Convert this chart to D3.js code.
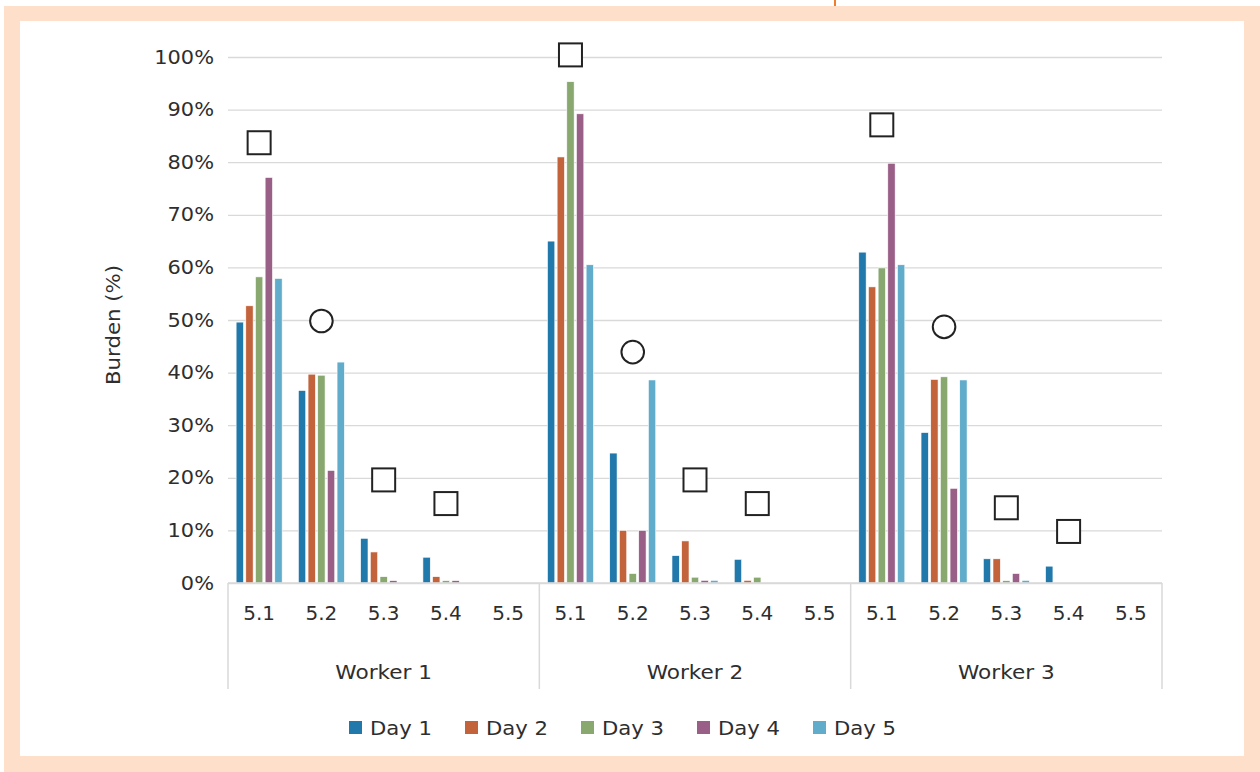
<!DOCTYPE html>
<html>
<head>
<meta charset="utf-8">
<script src="https://cdn.jsdelivr.net/npm/d3@7"></script>
<style>
html,body{margin:0;padding:0;background:#fff;}
svg{display:block;}
text{font-family:"DejaVu Sans",sans-serif;fill:#2e2e2e;}
</style>
</head>
<body>
<svg id="chart" width="1260" height="772"></svg>
<script>
// ---- data ----
const workers = ["Worker 1", "Worker 2", "Worker 3"];
const subcats = ["5.1", "5.2", "5.3", "5.4", "5.5"];
const days = ["Day 1", "Day 2", "Day 3", "Day 4", "Day 5"];
const dayColors = ["#2179ab", "#c3633b", "#88a870", "#9a5f86", "#60acca"];
// values in %, per worker then sub-category (5.1..5.5)
const day1 = [49.6, 36.6, 8.5, 4.9, 0,  65.0, 24.7, 5.2, 4.5, 0,  62.9, 28.6, 4.6, 3.2, 0];
const day2 = [52.7, 39.7, 5.9, 1.2, 0,  81.0, 10.0, 8.0, 0.5, 0,  56.3, 38.7, 4.6, 0, 0];
const day3 = [58.2, 39.5, 1.2, 0.45, 0, 95.3, 1.8, 1.1, 1.1, 0,   59.9, 39.2, 0.45, 0, 0];
const day4 = [77.1, 21.4, 0.45, 0.45, 0, 89.2, 10.0, 0.5, 0, 0,   79.8, 18.0, 1.8, 0, 0];
const day5 = [57.9, 42.0, 0, 0, 0,      60.5, 38.6, 0.5, 0, 0,    60.5, 38.6, 0.5, 0, 0];
const dayValues = [day1, day2, day3, day4, day5];
// reference markers (%), per worker then sub-category
const markerShapes = ["square", "circle", "square", "square", null];
const markerValues = [83.7, 49.8, 19.6, 15.1, null,  100.4, 43.9, 19.6, 15.1, null,  87.1, 48.7, 14.3, 9.8, null];
const yTicks = [0, 0.1, 0.2, 0.3, 0.4, 0.5, 0.6, 0.7, 0.8, 0.9, 1.0];

// ---- layout ----
const svg = d3.select("#chart");
const W = 1260, H = 772;
const plotLeft = 228, plotRight = 1162, plotTop = 57, plotBottom = 583;

function widen(sel, sx) {
  sel.each(function() {
    const t = d3.select(this);
    const x = +t.attr("x") || 0, y = +t.attr("y") || 0;
    t.attr("transform", `translate(${x},${y}) scale(${sx},1) translate(${-x},${-y})`);
  });
}

// frame
svg.append("rect").attr("x", 4).attr("y", 6).attr("width", W - 4).attr("height", H - 6).attr("fill", "#fee0ca");
svg.append("rect").attr("x", 20).attr("y", 21).attr("width", 1224).attr("height", 735).attr("fill", "#fff");
svg.append("line").attr("x1", 835).attr("x2", 835).attr("y1", 0).attr("y2", 6)
  .attr("stroke", "#f07d2e").attr("stroke-width", 2);

// scales
const x0 = d3.scaleBand().domain(workers).range([plotLeft, plotRight]).padding(0);
const x1 = d3.scaleBand().domain(subcats).range([0, x0.bandwidth()]).padding(0);
const x2 = d3.scaleBand().domain(days).range([0, x1.bandwidth()]).paddingInner(0.24).paddingOuter(0.84);
const y = d3.scaleLinear().domain([0, 1]).range([plotBottom, plotTop]);

// grid
const grid = svg.append("g").attr("transform", `translate(${plotLeft},0)`)
  .call(d3.axisLeft(y).tickValues(yTicks).tickSize(-(plotRight - plotLeft)).tickFormat(""));
grid.select(".domain").remove();
grid.selectAll("line").attr("stroke", "#d9d9d9").attr("stroke-width", 1.3);

// y axis labels
const yAxis = svg.append("g").attr("transform", `translate(${plotLeft},0)`)
  .call(d3.axisLeft(y).tickValues(yTicks).tickSize(0).tickPadding(14).tickFormat(d3.format(".0%")));
yAxis.select(".domain").remove();
yAxis.selectAll("text").attr("font-size", 19).attr("fill", "#333").style("font-family", "DejaVu Sans");
widen(yAxis.selectAll("text"), 1.1);

// y title
svg.append("text").attr("transform", `translate(120,325) rotate(-90) scale(1.12,1)`)
  .attr("text-anchor", "middle").attr("font-size", 19).text("Burden (%)");

// bars
const rows = [];
workers.forEach((w, wi) => subcats.forEach((s, si) => days.forEach((d, di) => {
  rows.push({w, s, d, di, v: dayValues[di][wi * subcats.length + si] / 100});
})));
svg.append("g").selectAll("rect").data(rows.filter(r => r.v > 0)).join("rect")
  .attr("x", r => x0(r.w) + x1(r.s) + x2(r.d))
  .attr("width", x2.bandwidth())
  .attr("y", r => y(r.v))
  .attr("height", r => y(0) - y(r.v))
  .attr("fill", r => dayColors[r.di])
  .attr("stroke", "#fff").attr("stroke-width", 0.6);

// markers
const marks = [];
workers.forEach((w, wi) => subcats.forEach((s, si) => {
  const v = markerValues[wi * subcats.length + si];
  if (v != null && markerShapes[si]) marks.push({w, s, v: v / 100, shape: markerShapes[si]});
}));
const mg = svg.append("g");
mg.selectAll("rect").data(marks.filter(m => m.shape === "square")).join("rect")
  .attr("x", m => x0(m.w) + x1(m.s) + x1.bandwidth() / 2 - 11.5)
  .attr("y", m => y(m.v) - 11.5)
  .attr("width", 23).attr("height", 23)
  .attr("fill", "#fff").attr("stroke", "#222").attr("stroke-width", 2);
mg.selectAll("circle").data(marks.filter(m => m.shape === "circle")).join("circle")
  .attr("cx", m => x0(m.w) + x1(m.s) + x1.bandwidth() / 2)
  .attr("cy", m => y(m.v))
  .attr("r", 11.3)
  .attr("fill", "#fff").attr("stroke", "#222").attr("stroke-width", 2);

// category axis
const ax = svg.append("g");
ax.append("line").attr("x1", plotLeft).attr("x2", plotRight).attr("y1", plotBottom).attr("y2", plotBottom)
  .attr("stroke", "#d9d9d9").attr("stroke-width", 1.5);
const seps = workers.map(w => x0(w)).concat([plotRight]);
ax.selectAll("line.sep").data(seps).join("line").attr("class", "sep")
  .attr("x1", d => d).attr("x2", d => d).attr("y1", plotBottom).attr("y2", 689)
  .attr("stroke", "#d9d9d9").attr("stroke-width", 1.5);
const subLabels = [];
workers.forEach(w => subcats.forEach(s => subLabels.push({w, s})));
const st = ax.selectAll("text.sub").data(subLabels).join("text").attr("class", "sub")
  .attr("x", d => x0(d.w) + x1(d.s) + x1.bandwidth() / 2)
  .attr("y", 620).attr("text-anchor", "middle").attr("font-size", 20)
  .text(d => d.s);
widen(st, 1.0);
const wt = ax.selectAll("text.wk").data(workers).join("text").attr("class", "wk")
  .attr("x", d => x0(d) + x0.bandwidth() / 2)
  .attr("y", 679).attr("text-anchor", "middle").attr("font-size", 20)
  .text(d => d);
widen(wt, 1.08);

// legend
const lg = svg.append("g");
const lx = d3.scalePoint().domain(days).range([349, 813]);
lg.selectAll("rect").data(days).join("rect")
  .attr("x", d => lx(d)).attr("y", 721).attr("width", 13).attr("height", 13)
  .attr("fill", (d, i) => dayColors[i]);
const lt = lg.selectAll("text").data(days).join("text")
  .attr("x", d => lx(d) + 21).attr("y", 735).attr("font-size", 20).text(d => d);
widen(lt, 1.06);
</script>
</body>
</html>
